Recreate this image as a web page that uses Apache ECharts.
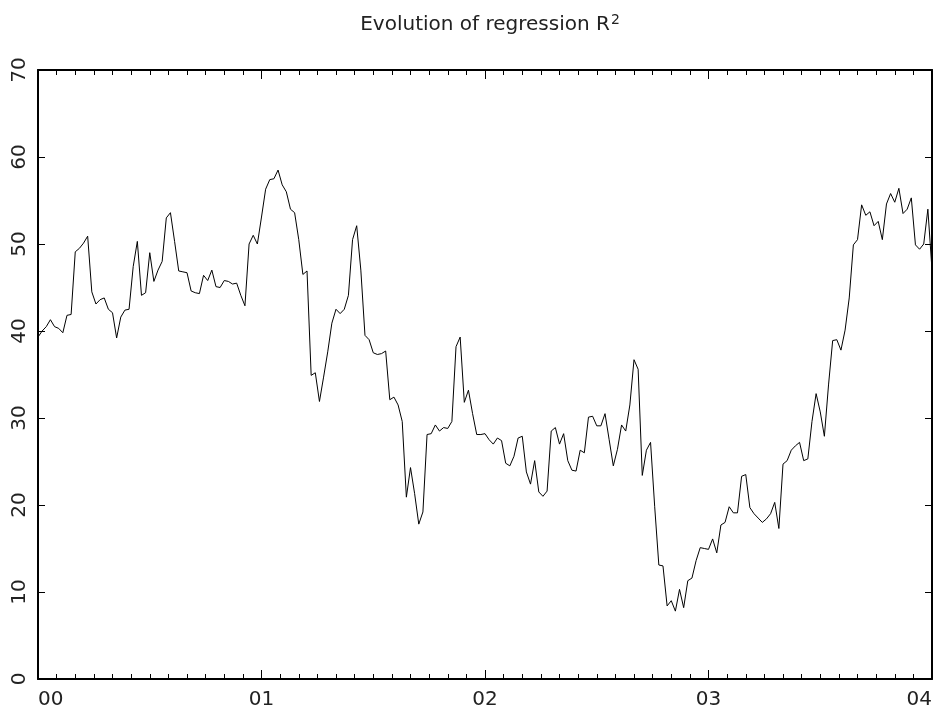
<!DOCTYPE html>
<html>
<head>
<meta charset="utf-8">
<title>Evolution of regression R2</title>
<script src="https://cdn.jsdelivr.net/npm/echarts@6/dist/echarts.min.js"></script>
<style>
  html, body { margin: 0; padding: 0; background: #fff; }
  #main { width: 944px; height: 718px; }
</style>
</head>
<body>
<div id="main"></div>
<script>
// R2 in percent, one value per period (Jan 2000 .. Jan 2004)
const r2Values = [
  39.3, 40.0, 40.5, 41.3, 40.5, 40.3, 39.8, 41.8, 41.9, 49.1, 49.5, 50.1, 50.9, 44.5, 43.1,
  43.6, 43.8, 42.5, 42.1, 39.2, 41.6, 42.4, 42.5, 47.4, 50.3, 44.1, 44.4, 49.0, 45.7,
  47.0, 48.0, 53.0, 53.6, 50.3, 46.9, 46.8, 46.7, 44.6, 44.4, 44.3, 46.4, 45.8, 47.0, 45.1,
  45.0, 45.8, 45.7, 45.4, 45.5, 44.1, 42.9, 50.0, 51.0, 50.0, 53.1, 56.3, 57.4, 57.5,
  58.5, 56.8, 56.0, 54.0, 53.6, 50.5, 46.5, 46.9, 34.9, 35.2, 31.9, 34.7, 37.6, 40.9,
  42.5, 42.0, 42.5, 44.1, 50.5, 52.1, 47.0, 39.5, 39.0, 37.5, 37.3, 37.4, 37.7,
  32.1, 32.4, 31.5, 29.6, 20.9, 24.3, 21.3, 17.8, 19.2, 28.1, 28.2, 29.2, 28.5, 28.9,
  28.8, 29.6, 38.2, 39.3, 31.8, 33.2, 30.5, 28.1, 28.1, 28.2, 27.5,
  27.0, 27.7, 27.4, 24.8, 24.5, 25.6, 27.7, 27.9, 23.8, 22.4, 25.1, 21.5, 21.0, 21.6,
  28.5, 28.9, 27.0, 28.2, 25.1, 24.0, 23.9, 26.3, 26.0, 30.1, 30.2, 29.1,
  29.1, 30.5, 27.5, 24.5, 26.4, 29.2, 28.5, 31.5, 36.7, 35.6, 23.4, 26.3, 27.2, 19.8,
  13.1, 13.0, 8.4, 9.0, 7.8, 10.3, 8.2, 11.3, 11.6, 13.6, 15.1, 15.0, 14.9,
  16.1, 14.5, 17.7, 18.0, 19.8, 19.1, 19.1, 23.3, 23.5, 19.7, 19.0, 18.5, 18.0, 18.4,
  19.0, 20.3, 17.3, 24.7, 25.1, 26.3, 26.8, 27.2, 25.1, 25.3, 29.6, 32.8, 30.7,
  27.9, 33.8, 38.9, 39.0, 37.8, 40.1, 43.8, 49.9, 50.5, 54.5, 53.3, 53.7, 52.1, 52.6,
  50.5, 54.6, 55.8, 54.8, 56.4, 53.5, 54.0, 55.3, 49.9, 49.4, 50.0, 54.0, 47.0
];
const yearLabels = ['00', '01', '02', '03', '04'];
const periodsPerYear = (r2Values.length - 1) / (yearLabels.length - 1);

const chart = echarts.init(document.getElementById('main'));

const font = 'DejaVu Sans';
const ink = '#000';

function xAxisCfg(pos, showLabels) {
  return {
    type: 'value',
    position: pos,
    min: 0,
    max: r2Values.length - 1,
    interval: periodsPerYear,
    axisLine: { show: true, onZero: false, lineStyle: { color: ink, width: 2 } },
    axisTick: { show: true, inside: true, length: 9, lineStyle: { color: ink, width: 1 } },
    minorTick: { show: true, splitNumber: 12, length: 5, lineStyle: { color: ink, width: 1 } },
    splitLine: { show: false },
    axisLabel: {
      show: showLabels,
      margin: 11,
      color: '#222',
      fontFamily: font,
      fontSize: 20,
      alignMinLabel: 'left',
      alignMaxLabel: 'right',
      formatter: v => yearLabels[Math.round(v / periodsPerYear)]
    }
  };
}

function yAxisCfg(pos, showLabels) {
  return {
    type: 'value',
    position: pos,
    min: 0,
    max: 70,
    interval: 10,
    axisLine: { show: true, onZero: false, lineStyle: { color: ink, width: 2 } },
    axisTick: { show: true, inside: true, length: 7, lineStyle: { color: ink, width: 1 } },
    splitLine: { show: false },
    axisLabel: {
      show: showLabels,
      rotate: 90,
      margin: 8,
      color: '#222',
      fontFamily: font,
      fontSize: 20
    }
  };
}

chart.setOption({
  animation: false,
  backgroundColor: '#fff',
  title: {
    text: 'Evolution of regression R{sup|2}',
    left: 485,
    top: 8,
    textAlign: 'center',
    textStyle: {
      fontFamily: font,
      fontSize: 20,
      fontWeight: 'normal',
      color: '#222',
      rich: {
        sup: { fontFamily: font, fontSize: 14, color: '#222', verticalAlign: 'top', padding: [0, 0, 10, 1] }
      }
    }
  },
  grid: { left: 38, right: 12, top: 70, bottom: 39, containLabel: false },
  xAxis: [xAxisCfg('bottom', true), xAxisCfg('top', false)],
  yAxis: [yAxisCfg('left', true), yAxisCfg('right', false)],
  series: [{
    type: 'line',
    xAxisIndex: 0,
    yAxisIndex: 0,
    data: r2Values.map((v, i) => [i, v]),
    showSymbol: false,
    symbol: 'none',
    lineStyle: { color: ink, width: 1 },
    clip: true
  }]
});
</script>
</body>
</html>
